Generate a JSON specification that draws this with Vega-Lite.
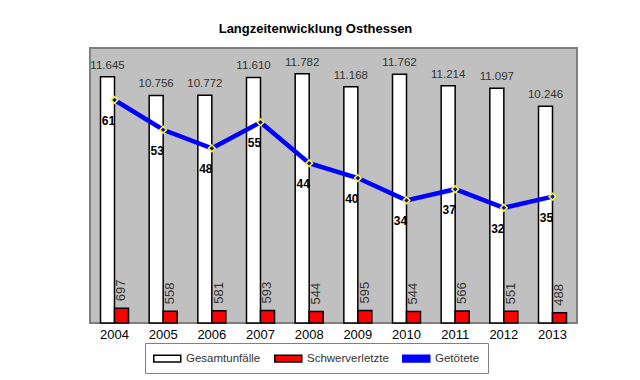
{
  "$schema": "https://vega.github.io/schema/vega-lite/v6.json",
  "width": 487,
  "height": 275,
  "autosize": {"type": "none"},
  "padding": {"left": 90, "top": 48, "right": 63, "bottom": 57},
  "background": "white",
  "title": {"text": "Langzeitenwicklung Osthessen", "fontSize": 13, "fontWeight": "bold", "font": "Liberation Sans", "color": "#000000", "anchor": "middle", "dx": -18, "offset": 12},
  "config": {
    "locale": {"number": {"decimal": ",", "thousands": ".", "grouping": [3], "currency": ["", " €"]}},
    "view": {"fill": "#C0C0C0", "stroke": "#808080", "strokeWidth": 2},
    "font": "Liberation Sans",
    "legend": {"symbolStrokeWidth": 1.5, "symbolOpacity": 1}
  },
  "data": {"values": [
    {"Jahr": "2004", "Gesamtunfälle": 11645, "Schwerverletzte": 697, "Getötete": 61},
    {"Jahr": "2005", "Gesamtunfälle": 10756, "Schwerverletzte": 558, "Getötete": 53},
    {"Jahr": "2006", "Gesamtunfälle": 10772, "Schwerverletzte": 581, "Getötete": 48},
    {"Jahr": "2007", "Gesamtunfälle": 11610, "Schwerverletzte": 593, "Getötete": 55},
    {"Jahr": "2008", "Gesamtunfälle": 11782, "Schwerverletzte": 544, "Getötete": 44},
    {"Jahr": "2009", "Gesamtunfälle": 11168, "Schwerverletzte": 595, "Getötete": 40},
    {"Jahr": "2010", "Gesamtunfälle": 11762, "Schwerverletzte": 544, "Getötete": 34},
    {"Jahr": "2011", "Gesamtunfälle": 11214, "Schwerverletzte": 566, "Getötete": 37},
    {"Jahr": "2012", "Gesamtunfälle": 11097, "Schwerverletzte": 551, "Getötete": 32},
    {"Jahr": "2013", "Gesamtunfälle": 10246, "Schwerverletzte": 488, "Getötete": 35}
  ]},
  "encoding": {
    "x": {"field": "Jahr", "type": "nominal",
      "scale": {"paddingInner": 0.425, "paddingOuter": 0.216},
      "axis": {"title": null, "labelAngle": 0, "labelFontSize": 13, "labelColor": "#000000", "ticks": false, "domain": false, "labelPadding": 5}}
  },
  "layer": [
    {
      "transform": [{"fold": ["Gesamtunfälle", "Schwerverletzte"], "as": ["Serie", "Wert"]}],
      "encoding": {
        "xOffset": {"field": "Serie", "type": "nominal", "scale": {"domain": ["Gesamtunfälle", "Schwerverletzte"], "paddingInner": 0, "paddingOuter": 0}},
        "y": {"field": "Wert", "type": "quantitative", "scale": {"domain": [0, 13000]}, "axis": null}
      },
      "layer": [
        {
          "mark": {"type": "bar", "strokeWidth": 1.5, "opacity": 1},
          "encoding": {
            "color": {"field": "Serie", "type": "nominal",
              "scale": {"domain": ["Gesamtunfälle", "Schwerverletzte", "Getötete"], "range": ["#FFFFFF", "#FF0000", "#0000FF"]},
              "legend": {
                "orient": "none", "legendX": 55, "legendY": 295, "direction": "horizontal", "title": null,
                "strokeColor": "#808080", "padding": 8, "labelFontSize": 11.5, "labelColor": "#333333",
                "symbolType": "M-1,-0.5H3V0.5H-1Z", "symbolSize": 182, "columnPadding": 10, "labelOffset": 18,
                "symbolStrokeWidth": 1.5, "symbolOpacity": 1,
                "fillColor": "#FFFFFF"
              }
            },
            "stroke": {"field": "Serie", "type": "nominal",
              "scale": {"domain": ["Gesamtunfälle", "Schwerverletzte", "Getötete"], "range": ["#000000", "#000000", "#0000FF"]},
              "legend": {
                "orient": "none", "legendX": 55, "legendY": 295, "direction": "horizontal", "title": null,
                "strokeColor": "#808080", "padding": 8, "labelFontSize": 11.5, "labelColor": "#333333",
                "symbolType": "M-1,-0.5H3V0.5H-1Z", "symbolSize": 182, "columnPadding": 10, "labelOffset": 18,
                "symbolStrokeWidth": 1.5, "symbolOpacity": 1,
                "fillColor": "#FFFFFF"
              }
            }
          }
        },
        {
          "transform": [{"filter": "datum.Serie === 'Gesamtunfälle'"}],
          "mark": {"type": "text", "baseline": "bottom", "dy": -6, "fontSize": 11.5, "color": "#333333"},
          "encoding": {"text": {"field": "Wert", "type": "quantitative", "format": ",d"}}
        },
        {
          "transform": [{"filter": "datum.Serie === 'Schwerverletzte'"}],
          "mark": {"type": "text", "angle": 270, "align": "left", "baseline": "middle", "dx": 7, "fontSize": 13, "color": "#333333"},
          "encoding": {"text": {"field": "Wert", "type": "quantitative"}}
        }
      ]
    },
    {
      "encoding": {
        "y": {"field": "Getötete", "type": "quantitative", "scale": {"domain": [1, 75], "zero": false}, "axis": null}
      },
      "layer": [
        {"mark": {"type": "line", "strokeWidth": 4.5}, "encoding": {"stroke": {"datum": "Getötete"}}},
        {"mark": {"type": "point", "shape": "diamond", "filled": true, "fill": "#0000FF", "stroke": "#FFFF00", "strokeWidth": 1.5, "size": 45, "opacity": 1}},
        {"mark": {"type": "text", "fontWeight": "bold", "fontSize": 12, "dx": -6, "dy": 21, "color": "#000000"},
         "encoding": {"text": {"field": "Getötete", "type": "quantitative"}}}
      ]
    }
  ],
  "resolve": {"scale": {"y": "independent"}}
}
